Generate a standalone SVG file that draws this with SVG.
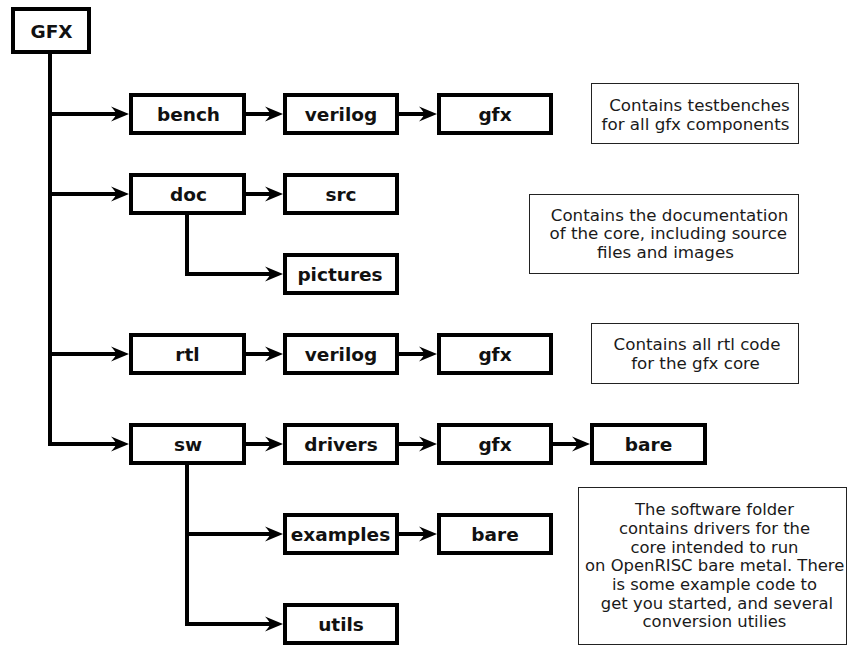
<svg xmlns="http://www.w3.org/2000/svg" width="848" height="645" viewBox="0 0 848 645">
<style>
.node rect{fill:#fff;stroke:#000;stroke-width:4}
.node text{font-family:"DejaVu Sans",sans-serif;font-weight:bold;font-size:18.5px;text-anchor:middle;fill:#111}
.note rect{fill:#fff;stroke:#222;stroke-width:1}
.note text{font-family:"DejaVu Sans",sans-serif;font-size:16.7px;text-anchor:middle;fill:#1a1a1a}
.conn path{fill:none;stroke:#000;stroke-width:4;stroke-linejoin:miter}
</style>
<defs>
<marker id="ah" markerUnits="userSpaceOnUse" markerWidth="30" markerHeight="30" viewBox="-15 -15 30 30" refX="0" refY="0" orient="auto">
<path d="M10,0 L-8,-7.5 Q-3,-2 -3,0 Q-3,2 -8,7.5 Z" fill="#000"/>
</marker>
</defs>
<rect width="848" height="645" fill="#fff"/>
<g id="connectors" class="conn">
<path d="M50,54 V444 H119" marker-end="url(#ah)"/>
<path d="M50,114 H119" marker-end="url(#ah)"/>
<path d="M50,194 H119" marker-end="url(#ah)"/>
<path d="M50,354 H119" marker-end="url(#ah)"/>
<path d="M246,114 H273" marker-end="url(#ah)"/>
<path d="M399,114 H427" marker-end="url(#ah)"/>
<path d="M246,194 H273" marker-end="url(#ah)"/>
<path d="M187,215 V274 H273" marker-end="url(#ah)"/>
<path d="M246,354 H273" marker-end="url(#ah)"/>
<path d="M399,354 H427" marker-end="url(#ah)"/>
<path d="M246,444 H273" marker-end="url(#ah)"/>
<path d="M399,444 H427" marker-end="url(#ah)"/>
<path d="M553,444 H580" marker-end="url(#ah)"/>
<path d="M187,465 V624 H273" marker-end="url(#ah)"/>
<path d="M187,534 H273" marker-end="url(#ah)"/>
<path d="M399,534 H427" marker-end="url(#ah)"/>
</g>
<g id="gfx" class="node"><rect x="13" y="9" width="76" height="43"/><text x="51.5" y="38">GFX</text></g>
<g id="bench" class="node"><rect x="131" y="95" width="113" height="38"/><text x="188.5" y="121">bench</text></g>
<g id="bench-verilog" class="node"><rect x="285" y="95" width="112" height="38"/><text x="341" y="121">verilog</text></g>
<g id="bench-gfx" class="node"><rect x="439" y="95" width="112" height="38"/><text x="495" y="121">gfx</text></g>
<g id="doc" class="node"><rect x="131" y="175" width="113" height="38"/><text x="188.5" y="201">doc</text></g>
<g id="doc-src" class="node"><rect x="285" y="175" width="112" height="38"/><text x="341" y="201">src</text></g>
<g id="doc-pictures" class="node"><rect x="285" y="255" width="112" height="38"/><text x="340" y="281">pictures</text></g>
<g id="rtl" class="node"><rect x="131" y="335" width="113" height="38"/><text x="187.5" y="361">rtl</text></g>
<g id="rtl-verilog" class="node"><rect x="285" y="335" width="112" height="38"/><text x="341" y="361">verilog</text></g>
<g id="rtl-gfx" class="node"><rect x="439" y="335" width="112" height="38"/><text x="495" y="361">gfx</text></g>
<g id="sw" class="node"><rect x="131" y="425" width="113" height="38"/><text x="188" y="451">sw</text></g>
<g id="sw-drivers" class="node"><rect x="285" y="425" width="112" height="38"/><text x="341" y="451">drivers</text></g>
<g id="sw-drivers-gfx" class="node"><rect x="439" y="425" width="112" height="38"/><text x="495" y="451">gfx</text></g>
<g id="sw-drivers-gfx-bare" class="node"><rect x="592" y="425" width="113" height="38"/><text x="648.5" y="451">bare</text></g>
<g id="sw-examples" class="node"><rect x="285" y="515" width="112" height="38"/><text x="340.5" y="541">examples</text></g>
<g id="sw-examples-bare" class="node"><rect x="439" y="515" width="112" height="38"/><text x="495" y="541">bare</text></g>
<g id="sw-utils" class="node"><rect x="285" y="605" width="112" height="38"/><text x="341" y="631">utils</text></g>
<g id="note-bench" class="note"><rect x="591.5" y="83.5" width="207" height="60"/>
<text x="699.5" y="111">Contains testbenches</text><text x="695.5" y="130">for all gfx components</text></g>
<g id="note-doc" class="note"><rect x="529.5" y="194.5" width="269" height="79"/>
<text x="669.5" y="220.5">Contains the documentation</text><text x="668.3" y="239">of the core, including source</text><text x="665.5" y="257.5">files and images</text></g>
<g id="note-rtl" class="note"><rect x="591.5" y="323.5" width="207" height="60"/>
<text x="697" y="350">Contains all rtl code</text><text x="695.5" y="369">for the gfx core</text></g>
<g id="note-sw" class="note" style="font-size:16.4px"><rect x="578.5" y="487.5" width="268" height="157"/>
<text x="714.5" y="515.3" style="font-size:16.4px">The software folder</text>
<text x="714.5" y="534" style="font-size:16.4px">contains drivers for the</text>
<text x="714.5" y="552.7" style="font-size:16.4px">core intended to run</text>
<text x="714.7" y="571.3" style="font-size:16.4px">on OpenRISC bare metal. There</text>
<text x="714.5" y="590" style="font-size:16.4px">is some example code to</text>
<text x="717" y="608.7" style="font-size:16.4px">get you started, and several</text>
<text x="714.5" y="627.3" style="font-size:16.4px">conversion utilies</text></g>
</svg>
